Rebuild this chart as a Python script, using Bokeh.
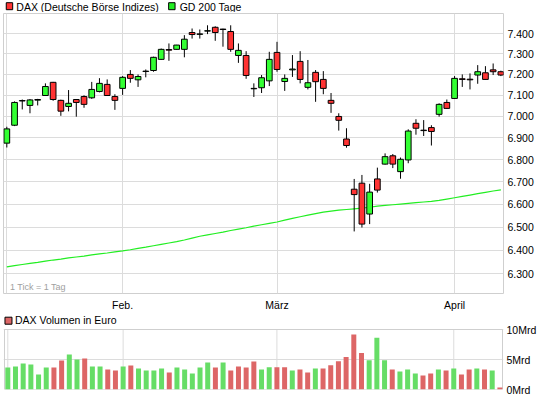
import pandas as pd
from bokeh.plotting import figure
from bokeh.layouts import column
from bokeh.models import Range1d, FixedTicker, Label
from bokeh.core.properties import value
from bokeh.embed import file_html
from bokeh.resources import INLINE

# ---------------- data ----------------
dates = pd.bdate_range("2011-01-11", "2011-04-11")

opens = [6876, 6959, 7073, 7052, 7077, 7099, 7162, 7076, 7047, 7080,
         7094, 7088, 7118, 7152, 7094, 7133, 7200, 7174, 7214, 7219,
         7273, 7321, 7322, 7322, 7405, 7396, 7412, 7431, 7422, 7410,
         7292, 7292, 7133, 7136, 7169, 7307, 7166, 7222, 7263, 7138,
         7210, 7176, 7076, 7000, 6895, 6667, 6694, 6557, 6713, 6780,
         6818, 6746, 6799, 6968, 6934, 6948, 7010, 7066, 7085, 7179,
         7177, 7197, 7208, 7222, 7213]
highs = [6952, 7071, 7080, 7082, 7083, 7157, 7164, 7079, 7125, 7082,
         7100, 7164, 7182, 7176, 7105, 7192, 7221, 7200, 7224, 7286,
         7326, 7351, 7344, 7392, 7425, 7420, 7441, 7436, 7424, 7441,
         7351, 7313, 7157, 7197, 7310, 7359, 7200, 7294, 7313, 7270,
         7221, 7216, 7111, 7015, 6945, 6713, 6731, 6691, 6764, 6829,
         6826, 6810, 6940, 6987, 6983, 6959, 7062, 7080, 7192, 7200,
         7205, 7245, 7240, 7253, 7218]
lows = [6856, 6955, 7033, 7015, 7052, 7097, 7074, 7003, 7024, 6999,
        7041, 7083, 7114, 7099, 7031, 7102, 7160, 7140, 7186, 7213,
        7271, 7266, 7321, 7283, 7375, 7375, 7397, 7364, 7335, 7310,
        7256, 7179, 7092, 7111, 7144, 7213, 7121, 7188, 7157, 7128,
        7069, 7105, 7017, 6934, 6855, 6481, 6498, 6513, 6652, 6778,
        6762, 6714, 6784, 6915, 6909, 6865, 6999, 7036, 7083, 7140,
        7128, 7155, 7175, 7197, 7192]
closes = [6942, 7066, 7075, 7078, 7080, 7142, 7080, 7025, 7062, 7066,
          7057, 7128, 7157, 7099, 7076, 7186, 7181, 7190, 7216, 7283,
          7322, 7318, 7343, 7372, 7395, 7398, 7414, 7405, 7420, 7322,
          7317, 7195, 7131, 7184, 7273, 7224, 7181, 7226, 7176, 7160,
          7165, 7133, 7062, 6982, 6865, 6643, 6513, 6654, 6663, 6814,
          6780, 6802, 6932, 6945, 6936, 6930, 7057, 7038, 7181, 7176,
          7174, 7213, 7176, 7213, 7197]

gd200 = [6329, 6334, 6339, 6344, 6348, 6353, 6358, 6362, 6367, 6371,
         6375, 6380, 6384, 6388, 6393, 6397, 6402, 6408, 6413, 6419,
         6425, 6431, 6437, 6444, 6452, 6460, 6466, 6472, 6478, 6485,
         6491, 6497, 6504, 6510, 6516, 6522, 6530, 6538, 6545, 6552,
         6559, 6565, 6570, 6574, 6577, 6580, 6583, 6587, 6592, 6595,
         6598, 6601, 6604, 6607, 6610, 6613, 6617, 6623, 6629, 6635,
         6641, 6647, 6653, 6659, 6664]

volume_mrd = [3.67, 3.83, 4.33, 4.17, 2.5, 3.67, 3.67, 4.83, 5.83, 5.0,
              5.17, 3.83, 3.83, 3.33, 3.17, 3.83, 4.0, 3.5, 3.17, 3.17,
              3.5, 2.83, 3.67, 3.33, 2.67, 3.67, 4.5, 3.67, 4.5, 3.17,
              3.83, 3.67, 4.67, 3.35, 3.69, 3.69, 3.69, 3.18, 3.35, 2.84,
              3.52, 3.52, 4.03, 4.72, 5.40, 9.15, 6.08, 4.89, 8.64, 4.89,
              3.35, 3.01, 3.35, 2.67, 2.33, 2.67, 3.35, 3.18, 3.52, 2.5,
              3.35, 3.52, 3.35, 3.18, 0.34]

price_ticks = [6300, 6400, 6500, 6600, 6700, 6800, 6900, 7000, 7100, 7200, 7300, 7400]
price_labels = ["6.300", "6.400", "6.500", "6.600", "6.700", "6.800", "6.900",
                "7.000", "7.100", "7.200", "7.300", "7.400"]
vol_ticks = [0, 5, 10]
vol_labels = ["0Mrd", "5Mrd", "10Mrd"]
month_labels = ["Feb.", "März", "April"]

title_main = "DAX (Deutsche Börse Indizes)"
title_gd = "GD 200 Tage"
title_vol = "DAX Volumen in Euro"
note = "1 Tick = 1 Tag"

# ---------------- derived ----------------
idx = list(range(len(closes)))
body_top = [max(o, c) for o, c in zip(opens, closes)]
body_bot = [min(o, c) for o, c in zip(opens, closes)]
RED, GREEN = "#ff3333", "#33ff33"
VRED, VGREEN = "#dd6666", "#66dd66"
LINEGREEN = "#22ee22"
body_col = [GREEN if c >= o else RED for o, c in zip(opens, closes)]
vol_col = [VGREEN] + [VGREEN if closes[i] >= closes[i - 1] else VRED
                      for i in range(1, len(closes))]

months = [d.month for d in dates]
month_idx = [i for i in range(1, len(dates)) if months[i] != months[i - 1]]
x_ticks = [0] + month_idx
x_over = {0: ""}
x_over.update({i: lab for i, lab in zip(month_idx, month_labels)})

FONT = "Liberation Sans"
FS = "10.5px"
GRID = "#dcdcdc"
OUTLINE = "#cfcfcf"
W = 545
X0, X1 = -0.43, 64.34          # day-index range of the 500 px wide panels
PX = (X1 - X0) / 500.0         # day units per pixel


def style_axis(ax, standoff):
    ax.axis_line_color = None
    ax.major_tick_line_color = None
    ax.minor_tick_line_color = None
    ax.major_tick_out = 0
    ax.major_tick_in = 0
    ax.minor_tick_out = 0
    ax.minor_tick_in = 0
    ax.major_label_text_font = FONT
    ax.major_label_text_font_size = FS
    ax.major_label_text_color = "black"
    ax.major_label_standoff = standoff


# ---------------- legend row (top) ----------------
leg = figure(width=W, height=12, x_range=Range1d(0, W), y_range=Range1d(0, 12),
             toolbar_location=None, output_backend="svg", min_border=0,
             x_axis_location=None, y_axis_location=None, outline_line_color=None)
leg.xgrid.visible = False
leg.ygrid.visible = False
leg.rect(x=[6.5, 183.5], y=[6.3, 6.3], width=7, height=7,
         fill_color=[RED, LINEGREEN], line_color="black", line_width=1)
leg.text(x=[14, 192], y=[6, 6], text=[title_main, title_gd],
         text_font=value(FONT), text_font_size=FS, text_baseline="middle",
         text_color="black")

# ---------------- price panel ----------------
p = figure(width=W, height=1 + 281 + 19, x_range=Range1d(X0, X1),
           y_range=Range1d(6217, 7500), y_axis_type="log", y_axis_location="right",
           toolbar_location=None, output_backend="svg", min_border_left=3,
           min_border_right=42, min_border_top=1, min_border_bottom=19)
p.outline_line_color = OUTLINE
p.xgrid.grid_line_color = GRID
p.ygrid.grid_line_color = GRID
p.xaxis.ticker = FixedTicker(ticks=x_ticks)
p.xaxis.major_label_overrides = x_over
p.yaxis.ticker = FixedTicker(ticks=price_ticks)
p.yaxis.major_label_overrides = {t: l for t, l in zip(price_ticks, price_labels)}
style_axis(p.xaxis[0], 5)
style_axis(p.yaxis[0], 4)

p.line(idx, gd200, line_color=LINEGREEN, line_width=1.2)
p.segment(x0=idx, y0=highs, x1=idx, y1=lows, line_color="black", line_width=1)
p.vbar(x=idx, width=0.74, top=body_top, bottom=body_bot, fill_color=body_col,
       line_color="black", line_width=1)
p.add_layout(Label(x=6.5, y=6.5, x_units="screen", y_units="screen", text=note,
                   text_font=FONT, text_font_size="9px", text_color="#a0a0a0",
                   text_baseline="middle"))

# ---------------- volume panel (legend row drawn inside its frame) ----------------
# frame: 502 px wide (1 px spare each side), 75 px tall; 10 Mrd = 60 px
VTOP = 10 + 15 / 6.0
v = figure(width=W, height=1 + 75 + 9, x_range=Range1d(X0 - PX, X1 + PX),
           y_range=Range1d(0, VTOP), y_axis_location="right", x_axis_location=None,
           toolbar_location=None, output_backend="svg", min_border_left=2,
           min_border_right=41, min_border_top=1, min_border_bottom=9)
v.outline_line_color = None
v.xgrid.visible = False
v.ygrid.grid_line_color = GRID
v.yaxis.ticker = FixedTicker(ticks=vol_ticks)
v.yaxis.major_label_overrides = {t: l for t, l in zip(vol_ticks, vol_labels)}
style_axis(v.yaxis[0], 3)

vt = vol_ticks[-1]
v.segment(x0=x_ticks, y0=[0] * len(x_ticks), x1=x_ticks, y1=[vt] * len(x_ticks),
          line_color=GRID, line_width=1)
v.quad(left=[X0], right=[X1], bottom=[0], top=[vt], fill_color=None,
       line_color=OUTLINE, line_width=1)
v.vbar(x=idx, width=0.65, top=volume_mrd, bottom=0, fill_color=vol_col, line_color=None)
v.rect(x=[X0 + 4.0 * PX], y=[vt + 8.8 / 6.0], width=7, height=7,
       width_units="screen", height_units="screen",
       fill_color=[VRED], line_color="black", line_width=1)
v.text(x=[X0 + 10.5 * PX], y=[vt + 9.3 / 6.0], text=[title_vol],
       text_font=value(FONT), text_font_size=FS, text_baseline="middle",
       text_color="black")

layout = column(leg, p, v, spacing=0)
open("out.html", "w").write(file_html(layout, INLINE))
